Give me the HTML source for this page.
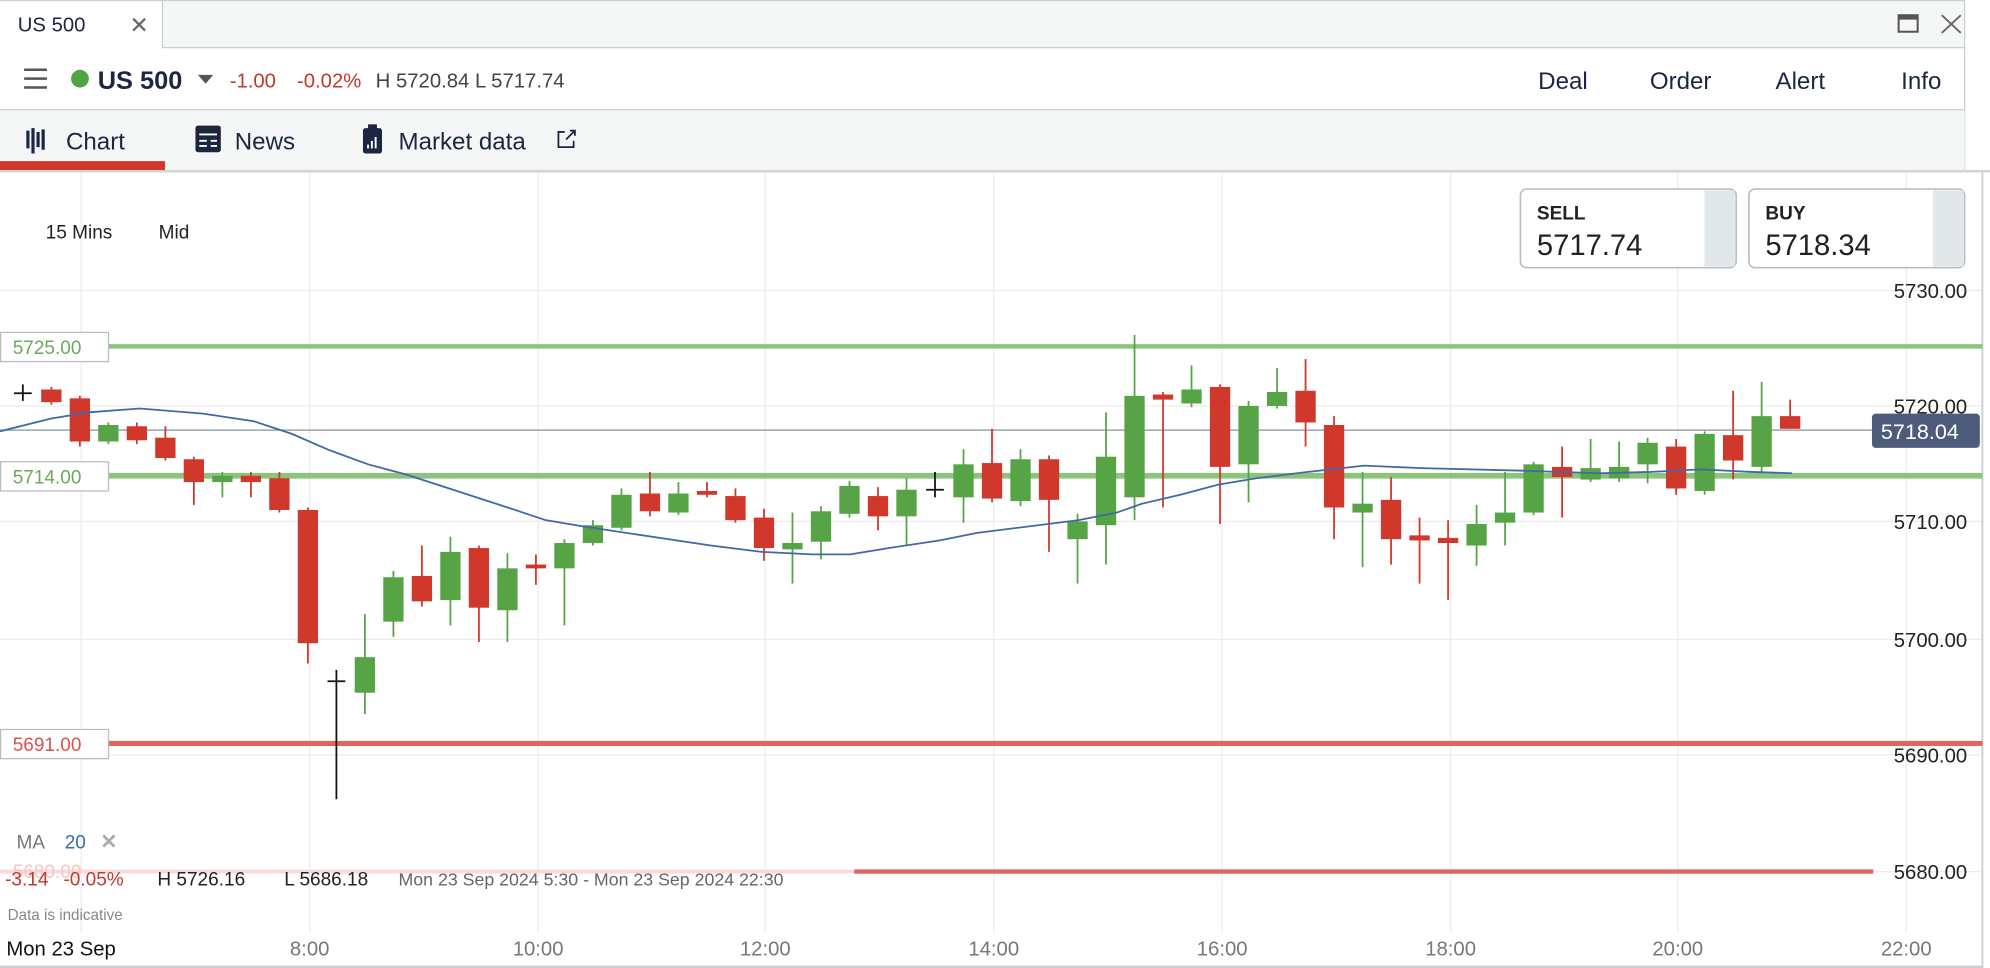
<!DOCTYPE html>
<html><head><meta charset="utf-8">
<style>
html,body{margin:0;padding:0;background:#fff;overflow:hidden}
svg{display:block;font-family:"Liberation Sans",sans-serif}
</style></head>
<body>
<svg id="s" width="1990" height="968" viewBox="0 0 1568 763" preserveAspectRatio="none" xmlns="http://www.w3.org/2000/svg">
<rect width="1568" height="763" fill="#fff"/>
<!-- title bar -->
<rect x="0" y="0" width="1548" height="38" fill="#f5f7f7"/>
<rect x="0" y="0" width="128" height="38" fill="#fff"/>
<line x1="128" y1="0" x2="128" y2="38" stroke="#c9cfd2"/>
<line x1="128" y1="37.5" x2="1548" y2="37.5" stroke="#c9cfd2"/>
<line x1="0" y1="0.5" x2="1548" y2="0.5" stroke="#c9cfd2"/>
<text x="14" y="25" font-size="16" fill="#1c2541">US 500</text>
<text x="102" y="26" font-size="18" fill="#666">✕</text>
<rect x="1496" y="12" width="15" height="13" fill="none" stroke="#555" stroke-width="1.6"/>
<line x1="1496" y1="14" x2="1511" y2="14" stroke="#555" stroke-width="3"/>
<path d="M1530 12 L1545 26 M1545 12 L1530 26" stroke="#666" stroke-width="1.5"/>
<line x1="1548" y1="0" x2="1548" y2="134" stroke="#c9cfd2"/>
<!-- row 2 -->
<path d="M19 55h18M19 62h18M19 69h18" stroke="#555" stroke-width="2"/>
<circle cx="63" cy="62" r="7" fill="#4fa544"/>
<text x="77" y="70" font-size="20" font-weight="bold" fill="#1c2541">US 500</text>
<path d="M156 59h12l-6 7z" fill="#555"/>
<text x="181" y="69" font-size="16" fill="#c0392b">-1.00</text>
<text x="234" y="69" font-size="16" fill="#c0392b">-0.02%</text>
<text x="296" y="69" font-size="16" fill="#444">H 5720.84 L 5717.74</text>
<text x="1212" y="70" font-size="19" fill="#1c2541">Deal</text>
<text x="1300" y="70" font-size="19" fill="#1c2541">Order</text>
<text x="1399" y="70" font-size="19" fill="#1c2541">Alert</text>
<text x="1498" y="70" font-size="19" fill="#1c2541">Info</text>
<!-- row 3 tabs -->
<rect x="0" y="87" width="1548" height="47" fill="#f5f7f7"/>
<line x1="0" y1="86.5" x2="1548" y2="86.5" stroke="#c9cfd2"/>
<line x1="0" y1="135" x2="1568" y2="135" stroke="#d0d4d6" stroke-width="2"/>
<rect x="0" y="127" width="130" height="7" fill="#d0382b"/>
<path d="M22 103v14M26 101v20M30 104v12M34 102v16" stroke="#1c2541" stroke-width="2.5"/>
<text x="52" y="118" font-size="19" fill="#1c2541">Chart</text>
<rect x="154" y="99" width="20" height="21" rx="2" fill="#1c2541"/>
<path d="M157 106h14M157 111h6M166 111h5M157 115h6M166 115h5" stroke="#fff" stroke-width="1.5"/>
<text x="185" y="118" font-size="19" fill="#1c2541">News</text>
<rect x="286" y="101" width="15" height="20" rx="2" fill="#1c2541"/>
<rect x="290" y="98" width="7" height="4" fill="#1c2541"/>
<path d="M290 117v-3M293 117v-6M296 117v-9" stroke="#fff" stroke-width="1.5"/>
<text x="314" y="118" font-size="19" fill="#1c2541">Market data</text>
<path d="M445 104h-5v12h12v-5M446 110l7-7M449 103h4v4" stroke="#1c2541" stroke-width="1.4" fill="none"/>
<!-- grid -->
<g stroke="#ececec" stroke-width="1">
<line x1="64" y1="136" x2="64" y2="735"/><line x1="244" y1="136" x2="244" y2="735"/>
<line x1="424" y1="136" x2="424" y2="735"/><line x1="603" y1="136" x2="603" y2="735"/>
<line x1="783" y1="136" x2="783" y2="735"/><line x1="963" y1="136" x2="963" y2="735"/>
<line x1="1143" y1="136" x2="1143" y2="735"/><line x1="1322" y1="136" x2="1322" y2="735"/>
<line x1="1502" y1="136" x2="1502" y2="735"/>
<line x1="0" y1="229" x2="1562" y2="229"/><line x1="0" y1="320" x2="1562" y2="320"/>
<line x1="0" y1="411" x2="1562" y2="411"/><line x1="0" y1="504" x2="1562" y2="504"/>
<line x1="0" y1="595" x2="1562" y2="595"/><line x1="0" y1="687" x2="1562" y2="687"/>
</g>
<line x1="1562" y1="136" x2="1562" y2="763" stroke="#c9cfd2" stroke-width="1.5"/>
<text x="36" y="188" font-size="15" fill="#222">15 Mins</text>
<text x="125" y="188" font-size="15" fill="#222">Mid</text>
<!-- current price line -->
<line x1="0" y1="339" x2="1476" y2="339" stroke="#9aa3ad" stroke-width="1.2"/>
<!-- level lines -->
<line x1="85" y1="273" x2="1562" y2="273" stroke="#8cc47e" stroke-width="3.5"/>
<line x1="85" y1="375" x2="1562" y2="375" stroke="#8cc47e" stroke-width="4.5"/>
<line x1="85" y1="586" x2="1562" y2="586" stroke="#e0665e" stroke-width="4"/>
<line x1="673" y1="687" x2="1476" y2="687" stroke="#e0665e" stroke-width="3.5"/>
<line x1="0" y1="687" x2="673" y2="687" stroke="#f8dada" stroke-width="3"/>
<g font-size="15">
<rect x="0.5" y="262" width="85" height="23" fill="#fff" stroke="#b8bec3"/>
<text x="10" y="279" fill="#6aaa5c">5725.00</text>
<rect x="0.5" y="364" width="85" height="23" fill="#fff" stroke="#b8bec3"/>
<text x="10" y="381" fill="#6aaa5c">5714.00</text>
<rect x="0.5" y="575" width="85" height="23" fill="#fff" stroke="#b8bec3"/>
<text x="10" y="592" fill="#d9534f">5691.00</text>
<text x="10" y="692" fill="#f3c5c3">5680.00</text>
</g>
<!-- price axis -->
<g font-size="16" fill="#222" text-anchor="end">
<text x="1550" y="235">5730.00</text><text x="1550" y="326">5720.00</text>
<text x="1550" y="417">5710.00</text><text x="1550" y="510">5700.00</text>
<text x="1550" y="601">5690.00</text><text x="1550" y="693">5680.00</text>
</g>
<rect x="1475" y="326" width="85" height="27" rx="3" fill="#4e5c7c"/>
<text x="1482" y="346" font-size="17" fill="#fff">5718.04</text>
<!-- candles -->
<g id="c"></g>
<polyline fill="none" stroke="#3f6aa6" stroke-width="1.4" points="0,340 40,330 70,325 110,322 160,326 200,332 230,342 260,355 290,366 320,374 360,387 400,400 430,410 460,415 500,421 560,430 600,435 640,437 670,437 700,432 740,426 770,420 810,415 850,410 880,404 900,397 930,390 960,382 990,377 1030,372 1075,367 1120,369 1200,371 1260,373 1300,372 1340,370 1380,372 1412,373"/>
<!-- buy/sell -->
<rect x="1198" y="149" width="170" height="62" rx="5" fill="#fff" stroke="#b8bec3" stroke-width="1.3"/>
<rect x="1343" y="150" width="24" height="60" fill="#e2e8ea"/>
<text x="1211" y="173" font-size="15" font-weight="bold" fill="#222">SELL</text>
<text x="1211" y="201" font-size="23" fill="#222">5717.74</text>
<rect x="1378" y="149" width="170" height="62" rx="5" fill="#fff" stroke="#b8bec3" stroke-width="1.3"/>
<rect x="1523" y="150" width="24" height="60" fill="#e2e8ea"/>
<text x="1391" y="173" font-size="15" font-weight="bold" fill="#222">BUY</text>
<text x="1391" y="201" font-size="23" fill="#222">5718.34</text>
<!-- bottom info -->
<text x="13" y="669" font-size="15" fill="#777">MA</text>
<text x="51" y="669" font-size="15" fill="#3a6aa8">20</text>
<text x="79" y="669" font-size="16" font-weight="bold" fill="#aaa">✕</text>
<text x="4" y="698" font-size="15" fill="#c0392b">-3.14</text>
<text x="50" y="698" font-size="15" fill="#c0392b">-0.05%</text>
<text x="124" y="698" font-size="15" fill="#222">H 5726.16</text>
<text x="224" y="698" font-size="15" fill="#222">L 5686.18</text>
<text x="314" y="698" font-size="14" fill="#666">Mon 23 Sep 2024 5:30 - Mon 23 Sep 2024 22:30</text>
<text x="6" y="725" font-size="12" fill="#888">Data is indicative</text>
<text x="5" y="753" font-size="16" fill="#111">Mon 23 Sep</text>
<g font-size="16" fill="#777" text-anchor="middle">
<text x="244" y="753">8:00</text><text x="424" y="753">10:00</text><text x="603" y="753">12:00</text>
<text x="783" y="753">14:00</text><text x="963" y="753">16:00</text><text x="1143" y="753">18:00</text>
<text x="1322" y="753">20:00</text><text x="1502" y="753">22:00</text>
</g>
<line x1="0" y1="762" x2="1562" y2="762" stroke="#c9cfd2" stroke-width="2"/>
</svg>
<script>
var d=[["k",310,310,303,316],["r",307,317,305,319],["r",314,348,312,352],["g",335,348,333,350],["r",336,347,333,350],["r",345,361,336,363],["r",362,380,360,398],["g",375,380,372,392],["r",375,380,372,392],["r",377,402,372,404],["r",402,507,400,523],["k",537,537,528,630],["g",518,546,484,563],["g",455,490,450,502],["r",454,474,430,478],["g",435,473,423,493],["r",432,479,430,506],["g",448,481,436,506],["r",445,448,437,461],["g",428,448,425,493],["g",414,428,410,430],["g",390,416,385,418],["r",389,403,372,407],["g",389,404,380,406],["r",387,390,380,392],["r",391,410,385,412],["r",408,432,401,442],["g",428,433,404,460],["g",403,427,399,441],["g",383,405,379,408],["r",391,407,384,418],["g",386,407,377,430],["k",386,386,372,392],["g",366,392,354,412],["r",365,393,338,396],["g",362,395,354,399],["r",362,394,359,435],["g",411,425,405,460],["g",360,414,325,445],["g",312,392,264,410],["r",311,315,309,400],["g",307,318,288,321],["r",305,368,303,413],["g",320,366,316,396],["g",309,320,290,322],["r",308,333,283,352],["r",335,400,328,425],["g",397,404,372,447],["r",394,425,376,445],["r",422,426,408,460],["r",424,428,410,473],["g",413,430,398,446],["g",404,412,372,430],["g",366,404,364,406],["r",368,376,352,408],["g",369,378,346,380],["g",368,377,348,380],["g",349,366,345,381],["r",352,385,346,390],["g",342,387,340,390],["r",343,363,308,378],["g",328,368,301,373],["r",328,338,315,338]];
var col={r:"#d0382b",g:"#57a447",k:"#111"},h="";
d.forEach(function(c,i){var x=18+22.46*i,f=col[c[0]];
h+='<line x1="'+x+'" y1="'+c[3]+'" x2="'+x+'" y2="'+c[4]+'" stroke="'+f+'" stroke-width="1.4"/>';
if(c[0]=="k")h+='<line x1="'+(x-7)+'" y1="'+c[1]+'" x2="'+(x+7)+'" y2="'+c[1]+'" stroke="#111" stroke-width="1.4"/>';
else h+='<rect x="'+(x-8)+'" y="'+c[1]+'" width="16" height="'+Math.max(2,c[2]-c[1])+'" fill="'+f+'"/>';});
document.getElementById("c").innerHTML=h;
</script>
</body></html>
